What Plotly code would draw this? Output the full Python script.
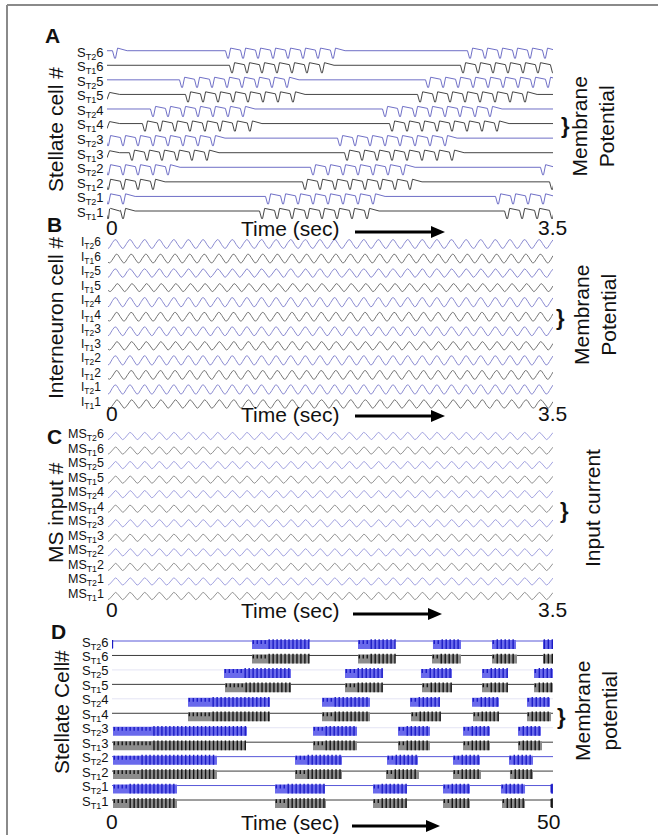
import numpy as np
import plotly.graph_objects as go

W, H = 658, 835
FONT = "Liberation Sans, Arial, sans-serif"

# ---------------- data ----------------
ROW_TYPES = ["T2", "T1"] * 6
ROW_CELLS = [6, 6, 5, 5, 4, 4, 3, 3, 2, 2, 1, 1]

# Panel A: stellate membrane potential, burst windows (s)
A_T_MAX = 3.5
A_SPIKE_PERIOD = 0.1176
A_BURSTS = [
    [(0.063, 0.063), (0.95, 1.774), (2.849, 3.50)],
    [(0.981, 1.75), (2.794, 3.50)],
    [(0.589, 1.46), (2.52, 3.477)],
    [(0.636, 1.491), (2.457, 3.32)],
    [(0.361, 1.107), (2.182, 3.061)],
    [(0.298, 1.146), (2.237, 3.085)],
    [(0.008, 0.887), (1.829, 2.692)],
    [(0.196, 0.824), (1.884, 2.747)],
    [(0.008, 0.518), (1.617, 2.378), (3.422, 3.422)],
    [(0.008, 0.471), (1.554, 2.402), (3.493, 3.493)],
    [(0.008, 0.204), (1.264, 2.143), (3.069, 3.50)],
    [(0.008, 0.243), (1.217, 2.08), (3.14, 3.50)],
]
A_ONSET_HUMP = [False, False, False, True, False, True, False, True, False, False, False, True]

# Panel B: interneuron theta oscillation
B_FREQ = 8.7
B_AMP_PX = [4.4, 4.4, 4.2, 4.0, 4.6, 4.4, 4.4, 4.2, 4.6, 4.4, 4.6, 4.2]
B_PHASE = [0.0, 0.010, 0.0, 0.015, 0.0, 0.010, 0.0, 0.012, 0.0, 0.010, 0.0, 0.012]

# Panel C: MS input current
C_FREQ = 8.7
C_AMP_PX = 3.6
C_PHASE = [0.0] * 12

# Panel D: stellate bursts over 50 s (s)
D_T_MAX = 50
D_BURSTS = [
    [(0.0, 0.12), (15.87, 22.34), (27.89, 32.09), (36.39, 39.57), (43.08, 45.80), (48.87, 50.0)],
    [(15.87, 22.34), (27.89, 32.09), (36.28, 39.57), (43.08, 45.92), (48.87, 50.0)],
    [(12.70, 20.29), (26.42, 30.73), (35.03, 38.55), (41.95, 44.90), (47.85, 50.0)],
    [(12.81, 20.29), (26.42, 30.73), (35.15, 38.55), (41.95, 44.90), (47.85, 50.0)],
    [(8.62, 17.91), (23.81, 29.25), (33.79, 37.19), (40.82, 43.88), (47.05, 49.66)],
    [(8.62, 17.91), (23.81, 29.25), (33.90, 37.30), (40.93, 43.88), (47.05, 49.77)],
    [(0.11, 15.31), (22.79, 27.78), (32.43, 36.05), (39.80, 42.86), (46.03, 48.64)],
    [(0.11, 15.19), (22.79, 27.78), (32.43, 36.05), (39.80, 42.86), (46.03, 48.75)],
    [(0.11, 11.90), (20.75, 26.08), (31.18, 34.69), (38.66, 41.72), (45.01, 47.73)],
    [(0.11, 11.90), (20.75, 26.08), (31.07, 34.81), (38.66, 41.84), (45.12, 47.73)],
    [(0.11, 7.37), (18.48, 24.15), (29.59, 33.45), (37.53, 40.59), (44.10, 46.83), (49.75, 50.0)],
    [(0.11, 7.37), (18.48, 24.26), (29.59, 33.45), (37.53, 40.59), (44.22, 46.83), (49.75, 50.0)],
]
D_TICK_DT = 0.45
D_T2_LINE_VISIBLE = [True, None, False, None, False, None, False, None, True, None, True, None]

# ---------------- helpers ----------------
def fx(x):
    return x / W

def fy(y):
    return 1 - y / H

PAD = 0.85

def y_dom(top_px, bot_px):
    sp = (bot_px - top_px) / 11
    return [fy(bot_px + PAD * sp), fy(top_px - PAD * sp)], sp

fig = go.Figure()

panels = {
    "A": dict(x0=107, x1=553, top=50.7, bot=211.0, tmax=A_T_MAX),
    "B": dict(x0=108, x1=553, top=244.0, bot=404.0, tmax=3.5),
    "C": dict(x0=108, x1=553, top=436.0, bot=596.0, tmax=3.5),
    "D": dict(x0=112, x1=553, top=641.0, bot=800.0, tmax=D_T_MAX),
}
axis_ids = {"A": "", "B": "2", "C": "3", "D": "4"}
layout_axes = {}
for k, p in panels.items():
    ydom, sp = y_dom(p["top"], p["bot"])
    p["sp"] = sp
    n = axis_ids[k]
    layout_axes["xaxis" + n] = dict(domain=[fx(p["x0"]), fx(p["x1"])], range=[0, p["tmax"]],
                                    visible=False, anchor="y" + n)
    layout_axes["yaxis" + n] = dict(domain=ydom, range=[-PAD, 11 + PAD], visible=False,
                                    anchor="x" + n)

def add_line(panel, x, y, color, width=1.0):
    n = axis_ids[panel]
    fig.add_trace(go.Scatter(x=x, y=y, mode="lines", line=dict(color=color, width=width),
                             xaxis="x" + n, yaxis="y" + n, hoverinfo="skip", showlegend=False))

# ---- Panel A ----
A_COL = {"T2": "#6f6fc6", "T1": "#454545"}
spA = panels["A"]["sp"]
for i in range(12):
    pts = [(-0.05, -5.0 if A_ONSET_HUMP[i] else 0.0)]
    if A_ONSET_HUMP[i]:
        pts += [(0.0, -5.0), (0.02, 2.0), (0.10, 0.0)]
    for a, b in A_BURSTS[i]:
        nsp = int(np.floor((b - a) / A_SPIKE_PERIOD + 1e-9)) + 1
        ts = a
        for kk in range(nsp):
            ts = a + kk * A_SPIKE_PERIOD
            pre = 0.0 if kk == 0 else 0.6
            pts += [(ts - 0.02, pre), (ts - 0.004, -7.5), (ts + 0.004, -7.5), (ts + 0.02, 2.6)]
        pts.append((ts + 0.095, 0.0))
    pts.append((3.6, 0.0))
    pts.sort(key=lambda q: q[0])
    xs = [q[0] for q in pts]
    ys = [(11 - i) + q[1] / spA for q in pts]
    add_line("A", xs, ys, A_COL[ROW_TYPES[i]], 1.0)

# ---- Panel B ----
B_COL = {"T2": "#8a8ad0", "T1": "#767676"}
spB = panels["B"]["sp"]
tB = np.linspace(0, 3.5, 1400)
for i in range(12):
    v = -B_AMP_PX[i] * np.cos(2 * np.pi * B_FREQ * (tB - B_PHASE[i]))
    add_line("B", tB, (11 - i) + v / spB, B_COL[ROW_TYPES[i]], 1.0)

# ---- Panel C ----
C_COL = {"T2": "#9898dc", "T1": "#878787"}
spC = panels["C"]["sp"]
tC = np.linspace(0, 3.5, 1400)
for i in range(12):
    v = -C_AMP_PX * np.cos(2 * np.pi * C_FREQ * (tC - C_PHASE[i]))
    add_line("C", tC, (11 - i) + v / spC, C_COL[ROW_TYPES[i]], 0.9)

# ---- Panel D ----
spD = panels["D"]["sp"]
for i in range(12):
    base = 11 - i
    if ROW_TYPES[i] == "T1":
        add_line("D", [0, D_T_MAX], [base, base], "#3c3c3c", 1.0)
    else:
        col = "#5858d8" if D_T2_LINE_VISIBLE[i] else "#e4e4f4"
        add_line("D", [0, D_T_MAX], [base, base], col, 1.0)

fill_cols = {"T2": "#6a6aec", "T1": "#8c8c8c"}
tick_cols = {"T2": "#1c1cc4", "T1": "#141414"}
for typ in ["T2", "T1"]:
    fxs, fys, txs, tys = [], [], [], []
    for i in range(12):
        if ROW_TYPES[i] != typ:
            continue
        base = 11 - i
        top = base + 1.0 / spD
        bot = base - 8.0 / spD
        for a, b in D_BURSTS[i]:
            fxs += [a, b, b, a, a, None]
            fys += [top, top, bot, bot, top, None]
            ticks = np.arange(a + 0.15, b, D_TICK_DT)
            nshort = int(len(ticks) * 0.3)
            for j, t in enumerate(ticks):
                if j < nshort:
                    txs += [t, t, None]
                    tys += [base + 0.8 / spD, base - 3.0 / spD, None]
                else:
                    txs += [t, t, None]
                    tys += [base + 1.8 / spD, base - 8.0 / spD, None]
            if b - a < 0.5:
                txs += [a + 0.05, a + 0.05, None]
                tys += [base + 1.0 / spD, base - 7.0 / spD, None]
    fig.add_trace(go.Scatter(x=fxs, y=fys, mode="lines", fill="toself", fillcolor=fill_cols[typ],
                             line=dict(width=0, color=fill_cols[typ]), xaxis="x4", yaxis="y4",
                             hoverinfo="skip", showlegend=False))
    fig.add_trace(go.Scatter(x=txs, y=tys, mode="lines", line=dict(width=1.4, color=tick_cols[typ]),
                             xaxis="x4", yaxis="y4", hoverinfo="skip", showlegend=False))

# ---------------- annotations ----------------
ann = []

def text(x, y, s, size=21, angle=0, xanchor="center", bold=False, color="#111"):
    ann.append(dict(x=fx(x), y=fy(y), xref="paper", yref="paper", text=("<b>%s</b>" % s) if bold else s,
                    showarrow=False, textangle=angle, xanchor=xanchor, yanchor="middle",
                    font=dict(family=FONT, size=size, color=color)))

# row labels
for i in range(12):
    t, c = ROW_TYPES[i], ROW_CELLS[i]
    sub = "<sub>T%s</sub>" % t[1]
    text(106.5, 50.7 + i * panels["A"]["sp"] + 2.3, "S%s%d" % (sub, c), 13, xanchor="right")
    text(103, 243 + i * panels["B"]["sp"], "I%s%d" % (sub, c), 12, xanchor="right")
    text(106.5, 435 + i * panels["C"]["sp"], "MS%s%d" % (sub, c), 12.5, xanchor="right")
    text(111, 641 + i * panels["D"]["sp"] + 2.0, "S%s%d" % (sub, c), 13, xanchor="right")

# panel letters
text(52.5, 35, "A", 21, bold=True)
text(54, 224, "B", 21, bold=True)
text(54.5, 436, "C", 21, bold=True)
text(58, 631, "D", 21, bold=True)

# left titles
text(55, 130, "Stellate cell #", 21, angle=-90)
text(55, 318, "Interneuron cell #", 21, angle=-90)
text(55, 513, "MS input #", 21, angle=-90)
text(61, 712, "Stellate Cell#", 21, angle=-90)

# right titles
text(592.5, 127, "Membrane<br>Potential", 21, angle=-90)
text(595, 315, "Membrane<br>Potential", 21, angle=-90)
text(592, 508, "Input current", 21, angle=-90)
text(596, 711, "Membrane<br>potential", 21, angle=-90)

# braces
text(565, 126, "}", 22, bold=True)
text(560, 317, "}", 22, bold=True)
text(564, 510, "}", 22, bold=True)
text(561, 716, "}", 22, bold=True)

# time axes
time_rows = [(227, 232, 355, 445, "3.5", 552), (413, 416, 355, 445, "3.5", 552),
             (609, 614, 353, 442, "3.5", 552), (821, 826, 352, 440, "50", 548)]
shapes = []
for (ty, ay, tail, head, endlab, endx) in time_rows:
    text(111.5, ty, "0", 21)
    text(290, ty + 1, "Time (sec)", 21)
    text(endx, ty, endlab, 21)
    shapes.append(dict(type="line", xref="paper", yref="paper", x0=fx(tail), x1=fx(head - 10),
                       y0=fy(ay), y1=fy(ay), line=dict(color="#000", width=3)))
    shapes.append(dict(type="path", xref="paper", yref="paper",
                       path="M %f %f L %f %f L %f %f Z" % (fx(head - 14), fy(ay - 6), fx(head), fy(ay),
                                                          fx(head - 14), fy(ay + 6)),
                       fillcolor="#000", line=dict(color="#000", width=0)))

# frame
shapes.append(dict(type="line", xref="paper", yref="paper", x0=fx(7), x1=fx(660), y0=fy(5), y1=fy(5),
                   line=dict(color="#8a8a8a", width=2)))
shapes.append(dict(type="line", xref="paper", yref="paper", x0=fx(7), x1=fx(7), y0=fy(5), y1=fy(840),
                   line=dict(color="#8a8a8a", width=2)))

fig.update_layout(width=W, height=H, margin=dict(l=0, r=0, t=0, b=0), paper_bgcolor="white",
                  plot_bgcolor="white", annotations=ann, shapes=shapes, showlegend=False,
                  **layout_axes)

fig.write_html("out.html", config={"displayModeBar": False},
               post_script="document.body.style.margin='0';document.body.style.overflow='hidden';")
